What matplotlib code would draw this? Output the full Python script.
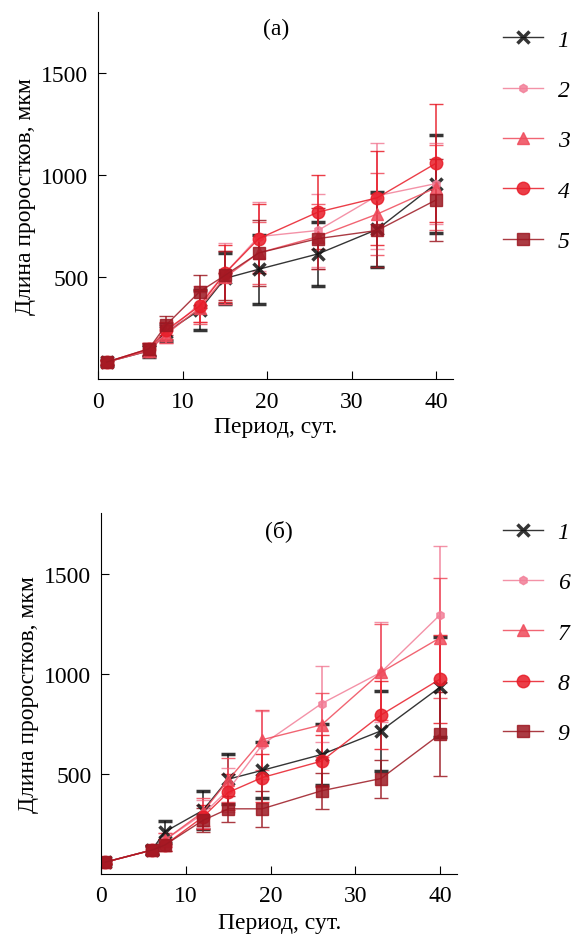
import matplotlib
matplotlib.use("Agg")
import matplotlib.pyplot as plt
from matplotlib.lines import Line2D

plt.rcParams["font.family"] = ["Liberation Serif", "DejaVu Serif"]

# days of measurement
days_a = [1, 6, 8, 12, 15, 19, 26, 33, 40]
days_b = [0.5, 6, 7.5, 12, 15, 19, 26, 33, 40]

# panel (a): mean sprout length and error, um
a1 = [85, 140, 230, 340, 495, 540, 615, 735, 960]
a1_err = [12, 30, 40, 100, 125, 170, 155, 185, 240]
a2 = [85, 145, 225, 370, 520, 700, 730, 900, 960]
a2_err = [12, 35, 45, 90, 150, 170, 180, 260, 200]
a3 = [85, 140, 220, 350, 500, 620, 700, 810, 940]
a3_err = [12, 30, 40, 80, 130, 150, 160, 200, 210]
a4 = [85, 150, 240, 360, 520, 690, 820, 890, 1060]
a4_err = [12, 30, 40, 80, 140, 170, 180, 230, 290]
a5 = [85, 150, 265, 430, 510, 620, 690, 730, 880]
a5_err = [12, 30, 45, 80, 120, 160, 150, 180, 200]

# panel (б)
b1 = [60, 121, 211, 318, 474, 518, 597, 715, 934]
b1_err = [10, 20, 55, 95, 125, 140, 150, 200, 250]
b6 = [60, 120, 170, 300, 420, 646, 851, 1007, 1295]
b6_err = [10, 20, 35, 70, 110, 170, 190, 250, 340]
b7 = [60, 120, 170, 310, 470, 671, 745, 1007, 1180]
b7_err = [10, 20, 35, 70, 110, 150, 160, 240, 300]
b8 = [60, 120, 145, 285, 408, 482, 564, 794, 974]
b8_err = [10, 20, 30, 60, 90, 120, 130, 170, 220]
b9 = [60, 120, 145, 268, 326, 326, 416, 477, 699]
b9_err = [10, 20, 30, 60, 65, 90, 90, 95, 210]

labels_a = ["1", "2", "3", "4", "5"]
labels_b = ["1", "6", "7", "8", "9"]

colors = ["#111111", "#f27f98", "#ef4a5a", "#e81c28", "#9c1822"]
markers = ["x", "h", "^", "o", "s"]
msizes = [9, 6, 8, 9, 8]


def draw_panel(fig, ax, days, series, errors, labels, title, xpad, leg_y):
    handles = []
    for i in range(len(series)):
        mew = 2.5 if markers[i] == "x" else 1
        ax.errorbar(days, series[i], yerr=errors[i], color=colors[i],
                    marker=markers[i], markersize=msizes[i],
                    markeredgewidth=mew,
                    linewidth=1.0, elinewidth=1.2, capsize=5, capthick=1.2,
                    alpha=0.85)
        handles.append(Line2D([], [], color=colors[i], marker=markers[i],
                              markersize=msizes[i], markeredgewidth=mew,
                              linewidth=1.0, alpha=0.85, label=labels[i]))
    ax.set_xlim(0, 42)
    ax.set_ylim(0, 1800)
    ax.set_xticks([0, 10, 20, 30, 40])
    ax.set_yticks([500, 1000, 1500])
    ax.spines["top"].set_visible(False)
    ax.spines["right"].set_visible(False)
    ax.tick_params(direction="in", labelsize=17, length=6)
    ax.tick_params(axis="x", pad=8)
    ax.tick_params(axis="y", pad=7)
    ax.set_xlabel("Период, сут.", fontsize=17, labelpad=xpad)
    ax.set_ylabel("Длина проростков, мкм", fontsize=17, labelpad=4)
    ax.text(0.5, 0.955, title, transform=ax.transAxes, ha="center",
            va="center", fontsize=17)
    ax.legend(handles=handles, loc="upper left",
              bbox_to_anchor=(0.85, leg_y), bbox_transform=fig.transFigure,
              frameon=False, handlelength=1.7, handletextpad=0.6,
              labelspacing=1.22, borderaxespad=0.0,
              prop={"style": "italic", "size": 17})


fig = plt.figure(figsize=(5.81, 9.37), dpi=100)
ax1 = fig.add_axes([0.169, 0.594, 0.611, 0.392])
ax2 = fig.add_axes([0.174, 0.066, 0.613, 0.385])

draw_panel(fig, ax1, days_a, [a1, a2, a3, a4, a5],
           [a1_err, a2_err, a3_err, a4_err, a5_err], labels_a, "(a)", 3,
           0.978)
draw_panel(fig, ax2, days_b, [b1, b6, b7, b8, b9],
           [b1_err, b6_err, b7_err, b8_err, b9_err], labels_b, "(б)", 4,
           0.4525)

fig.savefig("out.png", dpi=100)
